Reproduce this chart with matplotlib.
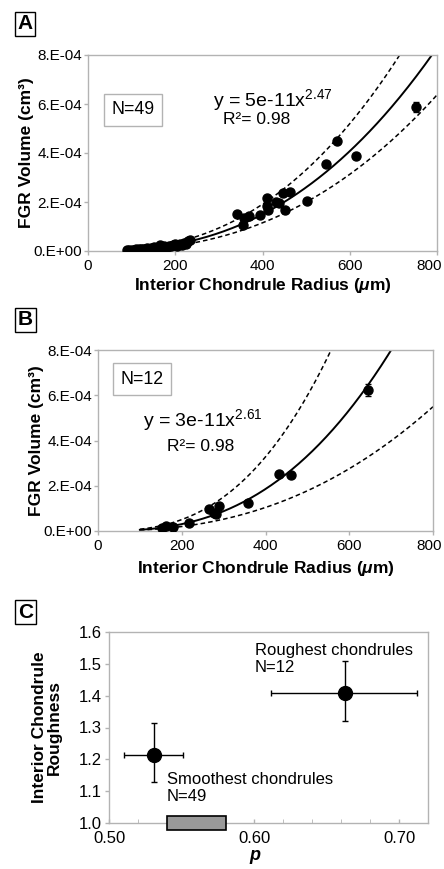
import numpy as np
import matplotlib
matplotlib.use('Agg')
import matplotlib.pyplot as plt
import matplotlib.transforms as mtransforms
from matplotlib.ticker import FuncFormatter, MultipleLocator

plt.rcParams['font.family'] = ['Liberation Sans', 'DejaVu Sans']
plt.rcParams['mathtext.fontset'] = 'custom'
plt.rcParams['mathtext.rm'] = 'Liberation Sans'
plt.rcParams['mathtext.it'] = 'Liberation Sans:italic:bold'
plt.rcParams['mathtext.bf'] = 'Liberation Sans:bold'

# ---- panel A: smoothest chondrules (N=49)
radius_a = [90, 95, 100, 105, 110, 118, 122, 127, 131, 135, 140, 144, 148, 152,
            157, 162, 166, 170, 175, 180, 185, 190, 195, 200, 205, 210, 215, 220,
            225, 229, 233,
            341, 356, 358, 368, 394, 410, 410, 413, 432, 437, 448, 452, 463, 501,
            545, 570, 614, 753]
vol_a = [0.03, 0.04, 0.05, 0.06, 0.07, 0.09, 0.08, 0.10, 0.09, 0.12, 0.10, 0.13,
         0.06, 0.15, 0.12, 0.18, 0.25, 0.14, 0.20, 0.17, 0.22, 0.19, 0.24, 0.30,
         0.22, 0.27, 0.25, 0.33, 0.30, 0.40, 0.45,
         1.51, 1.08, 1.33, 1.44, 1.47, 2.15, 1.82, 1.67, 2.02, 1.97, 2.35, 1.67,
         2.40, 2.06, 3.55, 4.48, 3.88, 5.87]  # x 1e-4 cm^3
err_a = [0.0] * 48 + [0.2]

# ---- panel B: roughest chondrules (N=12)
radius_b = [152, 163, 179, 217, 266, 277, 281, 289, 359, 433, 460, 645]
vol_b = [0.15, 0.21, 0.18, 0.35, 0.99, 0.80, 0.74, 1.09, 1.24, 2.54, 2.47, 6.23]
err_b = [0.0] * 11 + [0.25]

# power-law fits (coef, exponent): best fit, upper and lower bounds
fit_a = [(5.6e-11, 2.47), (7.14e-11, 2.47), (4.3e-11, 2.47)]
fit_b = [(3e-11, 2.61), (3.09e-11, 2.70), (5.92e-11, 2.40)]

# ---- panel C
p_vals = [0.531, 0.663]
rough_vals = [1.213, 1.408]
p_err_lo = [0.0206, 0.0512]
p_err_hi = [0.0202, 0.0493]
rough_err_lo = [0.084, 0.089]
rough_err_hi = [0.102, 0.101]
p_band = [0.540, 0.581]

gray = '#b3b3b3'
W, H = 444, 869
fig = plt.figure(figsize=(W / 100, H / 100), dpi=100)


def box(l, t, r, b):
    return [l / W, 1 - b / H, (r - l) / W, (b - t) / H]


def style(ax):
    for s in ax.spines.values():
        s.set_color(gray)
        s.set_linewidth(1.0)
    ax.tick_params(color=gray, labelcolor='black', labelsize=11,
                   length=3, width=1.0)


def sci(v, pos):
    if abs(v) < 1e-12:
        return '0.E+00'
    return '%d.E-04' % round(v / 1e-4)


def volume_panel(ax, rx, vy, err, fits, xs_start):
    xs = np.linspace(xs_start, 800, 300)
    for i, (c, e) in enumerate(fits):
        if i == 0:
            ax.plot(xs, c * xs ** e, color='black', lw=1.4, zorder=2)
        else:
            ax.plot(xs, c * xs ** e, color='black', lw=1.1,
                    ls=(0, (3, 2)), zorder=2)
    vy = np.array(vy) * 1e-4
    ax.errorbar(rx, vy, yerr=np.array(err) * 1e-4, fmt='o', color='black',
                ms=6.5, capsize=2.5, elinewidth=1, zorder=3)
    ax.set_xlim(0, 800)
    ax.set_ylim(0, 8e-4)
    ax.xaxis.set_major_locator(MultipleLocator(200))
    ax.yaxis.set_major_locator(MultipleLocator(2e-4))
    ax.yaxis.set_major_formatter(FuncFormatter(sci))
    style(ax)
    ax.tick_params(axis='y', pad=1)
    ax.tick_params(axis='x', pad=3)
    ax.set_xlabel(r'Interior Chondrule Radius ($\mu$m)', fontsize=12.5,
                  fontweight='bold', labelpad=2)
    ax.set_ylabel('FGR Volume (cm³)', fontsize=12.5, fontweight='bold',
                  labelpad=0)


def panel_tag(x, y, s):
    fig.text(x / W, 1 - y / H, s, fontsize=15, fontweight='bold',
             ha='center', va='center',
             bbox=dict(boxstyle='square,pad=0.12', fc='white', ec='black', lw=1))


# A
axA = fig.add_axes(box(88, 55, 437, 251))
volume_panel(axA, radius_a, vol_a, err_a, fit_a, 90)
axA.text((133 - 88) / 349, 1 - (110 - 55) / 196, 'N=49', transform=axA.transAxes,
         fontsize=12.8, ha='center', va='center',
         bbox=dict(boxstyle='square,pad=0.4', fc='white', ec=gray, lw=1))
axA.text((213 - 88) / 349, 1 - (100 - 55) / 196, r'y = 5e-11x$^{\mathrm{2.47}}$',
         transform=axA.transAxes, fontsize=14, ha='left', va='center')
axA.text((223 - 88) / 349, 1 - (120 - 55) / 196, 'R²= 0.98',
         transform=axA.transAxes, fontsize=12.5, ha='left', va='center')
panel_tag(25, 23.5, 'A')

# B
axB = fig.add_axes(box(98, 350, 433, 531))
volume_panel(axB, radius_b, vol_b, err_b, fit_b, 100)
axB.xaxis.labelpad = 4
axB.text((142 - 98) / 335, 1 - (379 - 350) / 181, 'N=12', transform=axB.transAxes,
         fontsize=12.8, ha='center', va='center',
         bbox=dict(boxstyle='square,pad=0.4', fc='white', ec=gray, lw=1))
axB.text((143 - 98) / 335, 1 - (420 - 350) / 181, r'y = 3e-11x$^{\mathrm{2.61}}$',
         transform=axB.transAxes, fontsize=14, ha='left', va='center')
axB.text((167 - 98) / 335, 1 - (447 - 350) / 181, 'R²= 0.98',
         transform=axB.transAxes, fontsize=12.5, ha='left', va='center')
panel_tag(25.5, 319.5, 'B')

# C
axC = fig.add_axes(box(109, 632, 428, 823))
axC.barh([1.0], [p_band[1] - p_band[0]], left=[p_band[0]], height=0.042,
         color='#999999', edgecolor='black', lw=1.2, clip_on=False, zorder=4)
axC.errorbar(p_vals, rough_vals, xerr=[p_err_lo, p_err_hi],
             yerr=[rough_err_lo, rough_err_hi], fmt='o', color='black',
             ms=10, capsize=2.5, elinewidth=1, zorder=3)
axC.set_xlim(0.5, 0.72)
axC.set_ylim(1.0, 1.6)
axC.xaxis.set_major_locator(MultipleLocator(0.1))
axC.xaxis.set_minor_locator(MultipleLocator(0.02))
axC.xaxis.set_major_formatter(FuncFormatter(lambda v, p: '%.2f' % v))
axC.yaxis.set_major_locator(MultipleLocator(0.1))
axC.yaxis.set_major_formatter(FuncFormatter(lambda v, p: '%.1f' % v))
style(axC)
axC.tick_params(labelsize=12)
axC.tick_params(axis='x', which='both', direction='in', length=3, color=gray, pad=6)
axC.tick_params(axis='y', pad=2)
axC.text(0.6007, 1.565, 'Roughest chondrules\nN=12', fontsize=12,
         ha='left', va='top', linespacing=1.15)
axC.text(0.540, 1.159, 'Smoothest chondrules\nN=49', fontsize=12,
         ha='left', va='top', linespacing=1.15)
axC.set_xlabel(r'$p$', fontsize=13)
axC.xaxis.set_label_coords((255 - 109) / 319, -0.13)
axC.set_ylabel('Interior Chondrule\nRoughness', fontsize=12.5,
               fontweight='bold', linespacing=1.05, labelpad=12)
panel_tag(25.5, 612, 'C')

# keep the last x label ("800") inside the figure, as the reference does
fig.canvas.draw()
for ax, shift in ((axA, 5), (axB, 9)):
    for lbl in ax.get_xticklabels():
        if lbl.get_text() == '800':
            lbl.set_horizontalalignment('right')
            lbl.set_transform(lbl.get_transform() + mtransforms.ScaledTranslation(
                shift / 100, 0, fig.dpi_scale_trans))

fig.savefig('out.png', dpi=100, facecolor='white')
